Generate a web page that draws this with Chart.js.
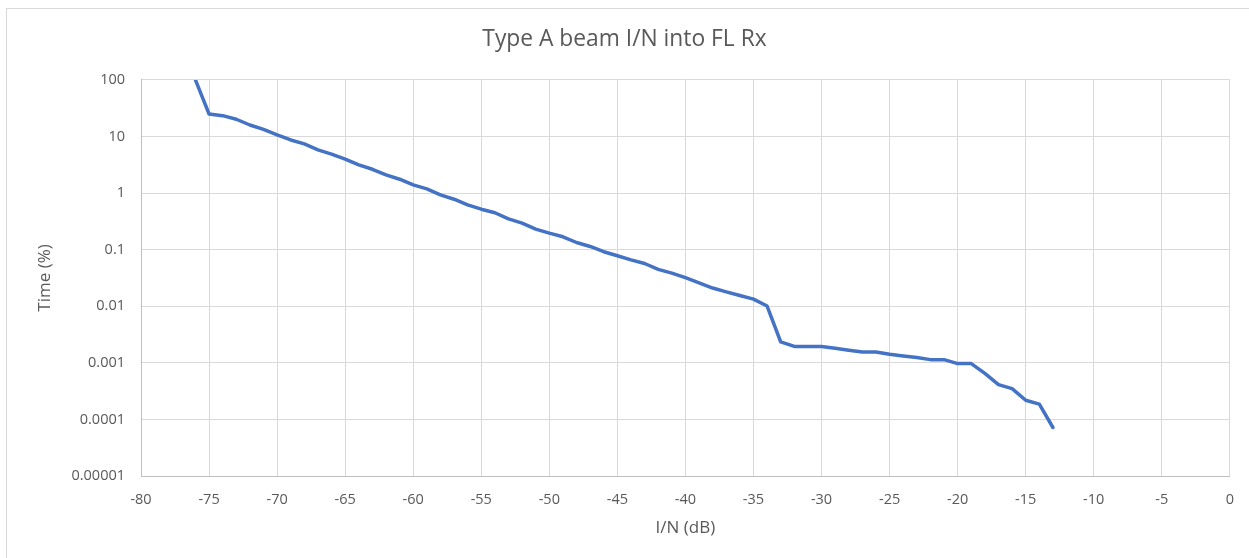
<!DOCTYPE html>
<html>
<head>
<meta charset="utf-8">
<script src="https://cdn.jsdelivr.net/npm/chart.js@4.4.1/dist/chart.umd.min.js"></script>
<style>
  html, body { margin: 0; padding: 0; background: #ffffff; overflow: hidden; }
  #wrap { position: relative; width: 1249px; height: 558px; }
  #frame { position: absolute; left: 6px; top: 8px; width: 1300px; height: 600px; border: 1px solid #d9d9d9; box-sizing: border-box; pointer-events: none; }
  canvas { position: absolute; left: 0; top: 0; }
</style>
</head>
<body>
<div id="wrap">
  <canvas id="c" width="1249" height="558"></canvas>
  <div id="frame"></div>
</div>
<script>
// I/N (dB)
const inLevels = [-76, -75, -74, -73, -72, -71, -70, -69, -68, -67, -66, -65, -64, -63, -62, -61, -60,
  -59, -58, -57, -56, -55, -54, -53, -52, -51, -50, -49, -48, -47, -46, -45, -44, -43, -42, -41, -40,
  -39, -38, -37, -36, -35, -34, -33, -32, -31, -30, -29, -28, -27, -26, -25, -24, -23, -22, -21, -20,
  -19, -18, -17, -16, -15, -14, -13];
// Time (%)
const timePct = [100, 25, 23.4, 20.2, 16, 13.4, 10.7, 8.7, 7.4, 5.8, 4.9, 4.0, 3.16, 2.64, 2.1, 1.76, 1.40,
  1.19, 0.93, 0.78, 0.62, 0.52, 0.45, 0.35, 0.295, 0.231, 0.196, 0.169, 0.134, 0.114, 0.092, 0.078, 0.066, 0.057, 0.045, 0.0386, 0.032,
  0.026, 0.021, 0.018, 0.0155, 0.0134, 0.0101, 0.00234, 0.00195, 0.00195, 0.00195, 0.00181, 0.00167, 0.00156, 0.00156, 0.00142, 0.00132, 0.00124, 0.00114, 0.00114, 0.00097,
  0.00097, 0.00065, 0.000413, 0.00035, 0.000218, 0.000186, 0.000072];
const yTickValues = [0.00001, 0.0001, 0.001, 0.01, 0.1, 1, 10, 100];
const yTickLabels = ['0.00001', '0.0001', '0.001', '0.01', '0.1', '1', '10', '100'];

const textColor = '#595959';
const fontFam = "'Open Sans', 'Liberation Sans', sans-serif";

new Chart(document.getElementById('c'), {
  type: 'line',
  data: {
    datasets: [{
      data: inLevels.map((x, i) => ({ x: x, y: timePct[i] })),
      borderColor: '#4472C4',
      borderWidth: 3.5,
      pointRadius: 0,
      borderJoinStyle: 'round',
      borderCapStyle: 'round',
      tension: 0,
      fill: false
    }]
  },
  options: {
    responsive: false,
    animation: false,
    devicePixelRatio: 1,
    layout: { padding: { left: 19, right: 19, top: 0, bottom: 20 } },
    plugins: {
      legend: { display: false },
      tooltip: { enabled: false },
      title: {
        display: true,
        text: 'Type A beam I/N into FL Rx',
        color: textColor,
        font: { family: fontFam, size: 22.8, weight: 'normal', lineHeight: 1.2 },
        padding: { top: 26, bottom: 26.6 }
      }
    },
    scales: {
      x: {
        type: 'linear',
        min: -80,
        max: 0,
        afterFit: (s) => { s.height = 62; },
        grid: { color: '#d9d9d9', lineWidth: 1, drawTicks: false },
        border: { color: '#bfbfbf', width: 1 },
        ticks: {
          stepSize: 5,
          color: textColor,
          padding: 15,
          font: { family: fontFam, size: 14.5, lineHeight: 1.2 },
          maxRotation: 0
        },
        title: {
          display: true,
          text: 'I/N (dB)',
          color: textColor,
          font: { family: fontFam, size: 17, lineHeight: 1.2 },
          padding: { top: 11, bottom: 0 }
        }
      },
      y: {
        type: 'logarithmic',
        min: 0.00001,
        max: 100,
        afterFit: (s) => { s.width = 122; },
        afterBuildTicks: (s) => { s.ticks = yTickValues.map(v => ({ value: v })); },
        grid: { color: '#d9d9d9', lineWidth: 1, drawTicks: false },
        border: { color: '#bfbfbf', width: 1 },
        ticks: {
          color: textColor,
          padding: 16,
          autoSkip: false,
          font: { family: fontFam, size: 14.5, lineHeight: 1.2 },
          callback: (v) => { const i = yTickValues.indexOf(v); return i >= 0 ? yTickLabels[i] : ''; }
        },
        title: {
          display: true,
          text: 'Time (%)',
          color: textColor,
          font: { family: fontFam, size: 17, lineHeight: 1.2 },
          padding: { top: 16, bottom: 0 }
        }
      }
    }
  }
});
</script>
</body>
</html>
